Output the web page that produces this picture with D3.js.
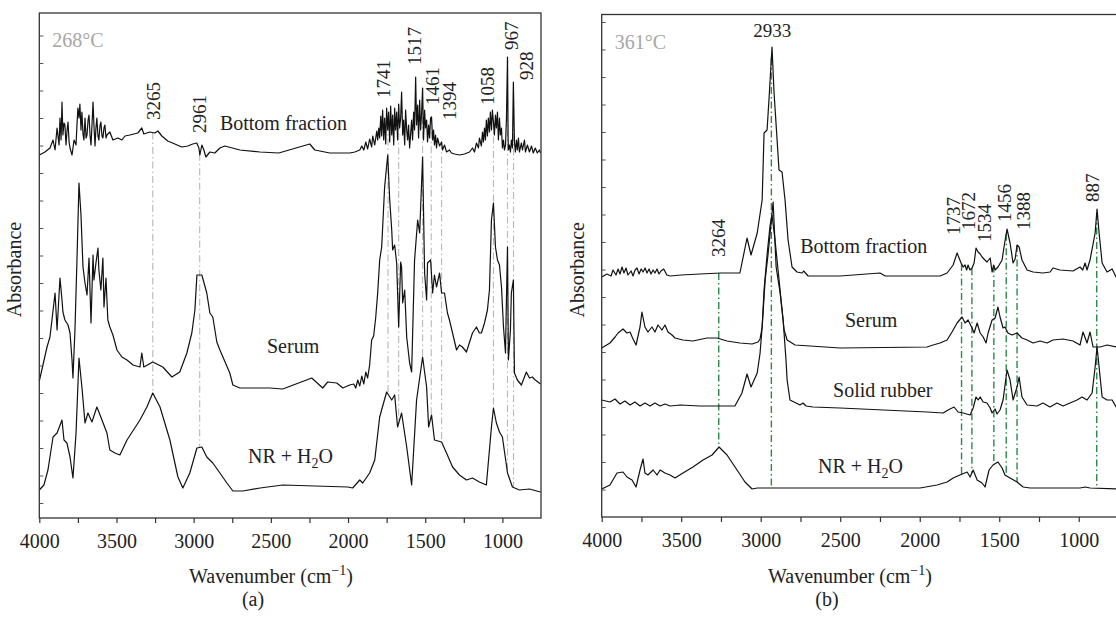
<!DOCTYPE html>
<html>
<head>
<meta charset="utf-8">
<script src="https://cdn.jsdelivr.net/npm/d3@7"></script>
<style>
  body { margin: 0; background: #fff; }
  text { font-family: "Liberation Serif", "Times New Roman", serif; fill: #222; }
</style>
</head>
<body>
<svg id="chart" width="1116" height="629"></svg>
<script>
// ---- data: [wavenumber cm-1, absorbance (a.u., offset stacked)] ----
var bottomFractionA = [[4000,3.63],[3963,3.66],[3931,3.70],[3911,3.78],[3898,3.68],[3885,3.90],[3872,3.73],[3866,4.00],[3859,3.78],[3853,4.16],[3847,3.83],[3840,3.95],[3834,3.93],[3827,3.73],[3820,3.88],[3814,3.96],[3807,3.76],[3801,3.70],[3788,3.63],[3775,3.78],[3762,3.73],[3756,3.93],[3750,4.10],[3743,4.00],[3737,4.14],[3730,3.88],[3724,4.06],[3717,3.84],[3711,3.78],[3704,4.00],[3697,3.80],[3691,3.83],[3684,3.98],[3678,4.03],[3671,3.82],[3665,3.73],[3658,3.95],[3652,4.16],[3646,3.93],[3639,3.72],[3633,3.90],[3627,4.00],[3620,3.82],[3614,3.78],[3607,3.92],[3601,3.96],[3594,3.82],[3588,3.80],[3581,3.90],[3575,3.93],[3568,3.80],[3562,3.83],[3543,3.86],[3523,3.78],[3491,3.80],[3465,3.78],[3445,3.82],[3413,3.83],[3362,3.85],[3336,3.90],[3323,3.84],[3284,3.86],[3252,3.85],[3232,3.87],[3206,3.82],[3168,3.77],[3122,3.74],[3077,3.71],[3038,3.72],[3006,3.74],[2980,3.75],[2966,3.70],[2960,3.63],[2947,3.73],[2934,3.68],[2921,3.61],[2895,3.66],[2863,3.65],[2830,3.70],[2798,3.72],[2701,3.68],[2570,3.66],[2449,3.65],[2248,3.74],[2215,3.68],[2118,3.65],[1989,3.65],[1956,3.66],[1924,3.68],[1911,3.72],[1898,3.68],[1885,3.76],[1873,3.69],[1860,3.79],[1847,3.71],[1840,3.82],[1827,3.73],[1814,3.87],[1808,3.78],[1801,3.90],[1795,3.80],[1788,4.02],[1782,3.82],[1776,4.08],[1769,3.78],[1763,4.00],[1756,3.74],[1750,4.10],[1743,3.88],[1737,4.06],[1730,3.76],[1724,4.12],[1717,3.83],[1711,4.03],[1704,3.73],[1698,4.10],[1692,3.88],[1685,4.06],[1679,3.78],[1672,4.14],[1666,3.90],[1659,4.00],[1653,4.26],[1646,3.83],[1640,3.98],[1633,3.73],[1627,4.08],[1620,3.88],[1614,3.78],[1608,3.93],[1601,3.70],[1595,3.83],[1588,3.98],[1582,3.78],[1575,4.06],[1569,3.88],[1562,4.41],[1556,3.93],[1549,4.13],[1543,3.80],[1536,4.18],[1530,3.88],[1524,4.03],[1517,4.30],[1511,3.78],[1504,4.08],[1498,3.90],[1491,3.98],[1485,3.76],[1478,3.93],[1472,3.80],[1465,4.00],[1459,4.01],[1452,3.78],[1446,3.88],[1440,3.73],[1433,3.83],[1427,3.70],[1420,3.80],[1407,3.72],[1394,3.76],[1388,3.68],[1375,3.73],[1362,3.66],[1343,3.68],[1330,3.65],[1310,3.64],[1278,3.63],[1246,3.64],[1213,3.66],[1194,3.70],[1181,3.66],[1168,3.75],[1155,3.70],[1149,3.80],[1136,3.72],[1129,3.86],[1123,3.76],[1116,3.90],[1110,3.78],[1104,3.98],[1097,3.82],[1091,4.00],[1084,3.86],[1078,4.06],[1071,3.88],[1065,4.08],[1058,3.96],[1052,3.83],[1045,4.03],[1039,3.90],[1032,4.06],[1026,3.78],[1019,4.00],[1013,3.83],[1006,3.90],[1000,3.70],[993,3.78],[987,3.68],[980,3.73],[974,3.98],[967,4.61],[963,3.78],[961,3.68],[955,3.73],[948,3.66],[942,3.78],[935,3.70],[929,4.36],[922,3.76],[916,3.66],[909,3.78],[903,3.68],[896,3.80],[890,3.66],[877,3.75],[870,3.68],[857,3.78],[851,3.66],[838,3.73],[825,3.66],[812,3.72],[800,3.65],[787,3.70],[774,3.65],[761,3.68],[753,3.65]];

var serumA = [[4000,1.37],[3950,1.71],[3931,1.81],[3918,1.98],[3898,2.25],[3885,1.88],[3866,2.40],[3853,2.18],[3847,2.06],[3834,1.98],[3814,1.93],[3801,1.85],[3788,1.58],[3782,1.40],[3769,1.88],[3756,2.58],[3743,3.35],[3730,3.03],[3717,2.51],[3704,2.35],[3691,2.23],[3678,2.60],[3665,1.95],[3652,2.63],[3646,2.38],[3633,2.55],[3620,2.70],[3614,2.48],[3601,2.28],[3588,2.60],[3581,2.11],[3568,2.40],[3556,1.98],[3543,1.91],[3523,1.83],[3497,1.68],[3465,1.61],[3432,1.58],[3393,1.53],[3348,1.51],[3336,1.65],[3323,1.51],[3265,1.56],[3200,1.51],[3141,1.41],[3090,1.46],[3044,1.65],[3012,1.85],[2992,2.08],[2979,2.43],[2947,2.43],[2915,2.25],[2895,2.05],[2876,2.01],[2850,1.76],[2830,1.68],[2766,1.45],[2746,1.33],[2701,1.30],[2507,1.30],[2423,1.29],[2235,1.40],[2164,1.30],[2132,1.36],[2073,1.35],[2034,1.30],[1989,1.33],[1963,1.34],[1950,1.30],[1937,1.38],[1924,1.32],[1911,1.42],[1898,1.34],[1885,1.46],[1873,1.40],[1860,1.53],[1847,1.78],[1834,1.82],[1821,2.00],[1808,2.25],[1795,2.58],[1782,2.71],[1763,3.31],[1743,3.63],[1730,3.18],[1717,2.88],[1711,2.68],[1698,2.73],[1685,2.55],[1672,1.91],[1659,2.56],[1653,2.51],[1646,2.15],[1633,2.28],[1620,1.81],[1601,1.55],[1588,1.46],[1569,2.58],[1549,2.98],[1536,2.85],[1517,3.61],[1504,2.45],[1491,2.18],[1485,2.55],[1465,2.58],[1452,2.25],[1440,2.43],[1427,2.31],[1407,2.45],[1394,2.25],[1375,2.25],[1356,2.05],[1343,1.98],[1323,1.85],[1297,1.68],[1278,1.73],[1259,1.71],[1233,1.66],[1194,1.85],[1168,1.91],[1149,1.85],[1136,1.85],[1116,1.95],[1097,2.08],[1084,2.28],[1071,2.98],[1058,3.15],[1045,2.71],[1032,2.58],[1019,2.53],[1006,2.31],[993,1.91],[980,1.65],[974,2.18],[967,2.71],[961,1.58],[948,1.88],[942,2.25],[929,2.38],[922,1.45],[903,1.38],[877,1.33],[845,1.46],[825,1.40],[806,1.41],[787,1.38],[761,1.35],[753,1.34]];

var nrWaterA = [[4000,0.28],[3970,0.33],[3944,0.48],[3911,0.81],[3885,0.85],[3853,0.98],[3840,0.78],[3821,0.75],[3801,0.61],[3782,0.40],[3762,0.85],[3743,1.60],[3724,1.31],[3704,0.95],[3685,1.05],[3659,0.96],[3627,1.11],[3594,0.98],[3562,0.85],[3543,0.68],[3510,0.65],[3478,0.63],[3432,0.78],[3348,0.98],[3303,1.11],[3265,1.25],[3218,1.11],[3154,0.78],[3102,0.41],[3070,0.30],[3025,0.45],[2979,0.70],[2947,0.71],[2915,0.61],[2876,0.55],[2830,0.45],[2785,0.35],[2746,0.27],[2681,0.27],[2570,0.30],[2423,0.33],[2002,0.31],[1970,0.30],[1924,0.38],[1905,0.35],[1860,0.45],[1827,0.58],[1795,1.01],[1750,1.26],[1717,1.18],[1698,1.23],[1679,0.91],[1653,1.05],[1620,0.71],[1588,0.33],[1556,1.18],[1517,1.61],[1491,1.31],[1478,0.91],[1459,1.03],[1440,0.78],[1394,0.76],[1362,0.65],[1323,0.51],[1278,0.43],[1233,0.38],[1194,0.40],[1149,0.36],[1104,0.33],[1071,0.91],[1058,1.10],[1039,0.95],[1019,0.86],[1000,0.81],[967,0.45],[935,0.31],[890,0.28],[825,0.29],[753,0.26]];

var bottomFractionB = [[4000,2.40],[3967,2.43],[3941,2.41],[3929,2.47],[3910,2.42],[3897,2.48],[3885,2.43],[3872,2.50],[3860,2.44],[3847,2.49],[3835,2.42],[3815,2.46],[3803,2.41],[3790,2.47],[3778,2.49],[3765,2.43],[3752,2.48],[3740,2.45],[3727,2.49],[3715,2.44],[3702,2.48],[3690,2.43],[3677,2.47],[3665,2.44],[3652,2.48],[3640,2.43],[3627,2.46],[3610,2.48],[3590,2.42],[3570,2.41],[3500,2.42],[3382,2.43],[3250,2.44],[3131,2.44],[3118,2.54],[3086,2.79],[3061,2.62],[3022,2.84],[2991,3.17],[2979,3.84],[2960,3.87],[2947,4.20],[2929,4.70],[2916,4.24],[2897,3.77],[2885,3.47],[2866,3.45],[2847,3.17],[2828,2.77],[2803,2.50],[2772,2.45],[2740,2.44],[2730,2.46],[2702,2.41],[2501,2.41],[2250,2.44],[2217,2.41],[1872,2.41],[1828,2.44],[1790,2.52],[1765,2.64],[1740,2.54],[1727,2.50],[1715,2.52],[1705,2.47],[1696,2.52],[1684,2.47],[1671,2.49],[1658,2.54],[1646,2.69],[1633,2.65],[1620,2.63],[1608,2.60],[1590,2.57],[1577,2.55],[1557,2.59],[1545,2.45],[1535,2.52],[1526,2.47],[1508,2.50],[1482,2.57],[1470,2.70],[1451,2.88],[1432,2.74],[1413,2.54],[1400,2.58],[1388,2.72],[1375,2.70],[1357,2.57],[1325,2.47],[1287,2.45],[1225,2.44],[1180,2.45],[1162,2.49],[1118,2.47],[1036,2.46],[992,2.50],[975,2.47],[960,2.54],[948,2.47],[929,2.57],[897,2.84],[885,3.08],[872,2.84],[853,2.54],[822,2.45],[790,2.48],[765,2.40],[753,2.38]];

var serumB = [[4000,1.69],[3948,1.74],[3916,1.80],[3897,1.84],[3866,1.88],[3841,1.84],[3822,1.85],[3803,1.78],[3784,1.72],[3759,1.90],[3747,2.05],[3728,1.90],[3709,1.85],[3684,1.90],[3665,1.85],[3646,1.92],[3621,1.87],[3602,1.92],[3583,1.85],[3558,1.82],[3539,1.79],[3489,1.77],[3426,1.76],[3338,1.79],[3275,1.79],[3212,1.76],[3131,1.74],[3054,1.73],[3017,1.75],[3004,1.78],[2991,1.90],[2979,2.27],[2960,2.62],[2941,2.92],[2929,3.02],[2910,2.77],[2891,2.47],[2872,2.17],[2853,1.87],[2834,1.77],[2784,1.72],[2500,1.69],[1954,1.70],[1916,1.72],[1872,1.74],[1828,1.77],[1797,1.85],[1765,1.94],[1734,2.00],[1715,1.94],[1696,1.97],[1671,1.89],[1658,1.84],[1639,1.94],[1620,1.84],[1601,1.80],[1583,1.74],[1570,1.84],[1545,1.97],[1526,1.99],[1508,2.10],[1495,2.00],[1476,1.89],[1464,1.90],[1445,1.84],[1420,1.82],[1388,1.84],[1357,1.79],[1325,1.77],[1287,1.74],[1243,1.76],[1199,1.74],[1162,1.77],[1099,1.78],[1036,1.76],[992,1.72],[973,1.85],[948,1.74],[929,1.85],[910,1.70],[866,1.70],[822,1.72],[765,1.70],[753,1.70]];

var solidRubberB = [[4000,1.17],[3948,1.15],[3916,1.18],[3885,1.13],[3854,1.16],[3822,1.12],[3791,1.15],[3759,1.11],[3728,1.14],[3696,1.11],[3665,1.14],[3633,1.11],[3602,1.13],[3570,1.11],[3507,1.12],[3382,1.11],[3162,1.11],[3118,1.24],[3086,1.43],[3061,1.30],[3022,1.44],[3004,1.64],[2991,1.90],[2972,2.37],[2953,2.64],[2922,3.15],[2903,2.50],[2878,2.24],[2859,1.97],[2841,1.57],[2834,1.37],[2816,1.17],[2753,1.12],[2734,1.14],[2715,1.11],[2671,1.10],[2501,1.09],[1954,1.05],[1853,1.04],[1822,1.07],[1784,1.10],[1759,1.05],[1727,1.04],[1683,1.02],[1664,1.09],[1646,1.20],[1633,1.17],[1620,1.20],[1601,1.15],[1577,1.14],[1557,1.09],[1545,1.04],[1526,1.08],[1514,1.03],[1495,1.07],[1476,1.17],[1451,1.47],[1432,1.37],[1413,1.17],[1388,1.30],[1375,1.40],[1357,1.20],[1325,1.12],[1262,1.11],[1225,1.14],[1181,1.10],[1137,1.14],[1099,1.11],[1011,1.17],[979,1.20],[948,1.17],[916,1.24],[897,1.50],[885,1.70],[872,1.50],[853,1.20],[822,1.17],[790,1.17],[765,1.10],[753,1.08]];

var nrWaterB = [[4000,0.28],[3948,0.32],[3904,0.44],[3866,0.45],[3841,0.40],[3809,0.37],[3784,0.30],[3759,0.47],[3740,0.58],[3728,0.44],[3709,0.42],[3677,0.47],[3652,0.42],[3633,0.47],[3602,0.44],[3570,0.42],[3539,0.39],[3489,0.44],[3426,0.50],[3363,0.57],[3306,0.62],[3262,0.70],[3212,0.62],[3149,0.47],[3099,0.35],[3054,0.28],[3022,0.29],[2922,0.29],[2501,0.29],[1998,0.29],[1891,0.32],[1828,0.35],[1790,0.39],[1747,0.42],[1702,0.45],[1683,0.40],[1664,0.47],[1639,0.37],[1608,0.34],[1589,0.30],[1564,0.47],[1539,0.52],[1508,0.55],[1482,0.49],[1464,0.42],[1432,0.39],[1388,0.35],[1350,0.30],[1306,0.29],[992,0.29],[960,0.30],[929,0.29],[753,0.28]];

var seriesNamesA = ["Bottom fraction", "Serum", "NR + H2O"];
var seriesNamesB = ["Bottom fraction", "Serum", "Solid rubber", "NR + H2O"];
var peakLinesA = [3265, 2961, 1741, 1672, 1517, 1461, 1394, 1058, 967, 928];
var peakLabelsA = ["3265", "2961", "1741", "1517", "1461", "1394", "1058", "967", "928"];
var peakLinesB = [3264, 2933, 1737, 1672, 1534, 1456, 1388, 887];
var peakLabelsB = ["3264", "2933", "1737", "1672", "1534", "1456", "1388", "887"];
var xTickValues = [4000, 3500, 3000, 2500, 2000, 1500, 1000];
var temperatures = ["268\u00b0C", "361\u00b0C"];
var panelTags = ["(a)", "(b)"];

// ---- helpers ----
var svg = d3.select("#chart");

// linear lookup of a spectrum at a given wavenumber (data sorted high -> low)
function valueAt(spec, w) {
  for (var i = 0; i < spec.length - 1; i++) {
    var a = spec[i], b = spec[i + 1];
    if (w <= a[0] && w >= b[0]) {
      return a[1] + (b[1] - a[1]) * (a[0] - w) / (a[0] - b[0]);
    }
  }
  return spec[spec.length - 1][1];
}

function addName(g, name, px, py) {
  var t = g.append("text").attr("x", px).attr("y", py).style("font-size", "20px");
  if (name.indexOf("H2O") >= 0) {
    t.append("tspan").text("NR + H");
    t.append("tspan").attr("dy", 5).style("font-size", "14px").text("2");
    t.append("tspan").attr("dy", -5).text("O");
  } else {
    t.text(name);
  }
}

function drawPanel(cfg) {
  var x = d3.scaleLinear().domain([4000, 750]).range([cfg.left, cfg.right]);
  var y = d3.scaleLinear().domain([0, cfg.yMax]).range([cfg.bottom, cfg.top]);
  var g = svg.append("g");

  // dash-dot peak markers, from the top spectrum down to the NR + H2O one
  g.selectAll(".peak")
    .data(cfg.lines)
    .enter()
    .append("line")
    .attr("x1", function (d) { return x(d); })
    .attr("x2", function (d) { return x(d); })
    .attr("y1", function (d) { return y(valueAt(cfg.series[0], d)); })
    .attr("y2", function (d) { return y(valueAt(cfg.series[cfg.series.length - 1], d)); })
    .attr("stroke", cfg.lineColor)
    .attr("stroke-width", cfg.lineWidth)
    .attr("stroke-dasharray", "7,3,1.5,3");

  var line = d3.line()
    .x(function (d) { return x(d[0]); })
    .y(function (d) { return y(d[1]); });

  g.selectAll(".spec")
    .data(cfg.series)
    .enter()
    .append("path")
    .attr("d", line)
    .attr("fill", "none")
    .attr("stroke", "#111")
    .attr("stroke-width", 1.2)
    .attr("stroke-linejoin", "round");

  // frame
  g.append("rect")
    .attr("x", cfg.left).attr("y", cfg.top)
    .attr("width", cfg.right - cfg.left).attr("height", cfg.bottom - cfg.top)
    .attr("fill", "none").attr("stroke", "#333").attr("stroke-width", 1.3);

  // bottom axis, ticks every 250, labels every 500
  var xAxis = d3.axisBottom(x)
    .tickValues(d3.range(1000, 4001, 250))
    .tickSize(5)
    .tickPadding(11)
    .tickFormat(function (d) { return xTickValues.indexOf(d) >= 0 ? d : ""; });
  var gx = g.append("g")
    .attr("transform", "translate(0," + cfg.bottom + ")")
    .call(xAxis);
  gx.select(".domain").remove();
  gx.selectAll("line").attr("stroke", "#333").attr("stroke-width", 1.2);
  gx.selectAll("text").style("font-size", "20px").style("font-family", "Liberation Serif, serif").attr("fill", "#222");

  // unlabeled absorbance ticks on the left
  var yAxis = d3.axisLeft(y)
    .tickValues(d3.range(cfg.yTick0, cfg.yMax, 0.275))
    .tickSize(-4)
    .tickFormat("");
  var gy = g.append("g")
    .attr("transform", "translate(" + cfg.left + ",0)")
    .call(yAxis);
  gy.select(".domain").remove();
  gy.selectAll("line").attr("stroke", "#555").attr("stroke-width", 1);

  // peak labels
  cfg.labels.forEach(function (lab, i) {
    var w = +lab, lay = cfg.labelLayout[i];
    var t = g.append("text").style("font-size", "19px").text(lab);
    if (lay.flat) {
      t.attr("x", x(w) + lay.dx).attr("y", y(lay.v)).attr("text-anchor", "middle");
    } else {
      t.attr("transform", "translate(" + (x(w) + lay.dx) + "," + y(lay.v) + ") rotate(-90)")
        .attr("dy", "0.35em");
    }
  });

  // spectrum names
  cfg.names.forEach(function (n, i) {
    var p = cfg.namePos[i];
    addName(g, n, x(p[0]), y(p[1]));
  });

  // temperature tag
  g.append("text")
    .attr("x", cfg.left + 13).attr("y", cfg.top + 34)
    .style("font-size", "20px").style("fill", "#a6a6a6")
    .text(cfg.temp);

  // axis titles
  g.append("text")
    .attr("transform", "translate(" + (cfg.left - 18) + "," + ((cfg.top + cfg.bottom) / 2 + 4) + ") rotate(-90)")
    .attr("text-anchor", "middle")
    .style("font-size", "20px")
    .text("Absorbance");

  var xt = g.append("text")
    .attr("x", cfg.titleX).attr("y", 583)
    .attr("text-anchor", "middle")
    .style("font-size", "20px");
  xt.append("tspan").text("Wavenumber (cm");
  xt.append("tspan").attr("dy", -8).style("font-size", "14px").text("\u22121");
  xt.append("tspan").attr("dy", 8).text(")");

  g.append("text")
    .attr("x", cfg.tagX).attr("y", 606)
    .attr("text-anchor", "middle")
    .style("font-size", "20px")
    .text(cfg.tag);
}

drawPanel({
  left: 39.3, right: 541, top: 13, bottom: 518, yMax: 5.05, yTick0: 0.15,
  series: [bottomFractionA, serumA, nrWaterA],
  names: seriesNamesA,
  namePos: [[2830, 3.88], [2525, 1.65], [2648, 0.55]],
  lines: peakLinesA, lineColor: "#b8b8b8", lineWidth: 1.1,
  labels: peakLabelsA,
  labelLayout: [
    {dx: 1, v: 3.98}, {dx: 0, v: 3.85}, {dx: -5, v: 4.20}, {dx: -8, v: 4.53},
    {dx: 1, v: 4.13}, {dx: 8, v: 3.98}, {dx: -6, v: 4.13}, {dx: 4, v: 4.68}, {dx: 13, v: 4.38}
  ],
  temp: temperatures[0], tag: panelTags[0], titleX: 271, tagX: 253
});

drawPanel({
  left: 601.7, right: 1118.5, top: 14.5, bottom: 517, yMax: 5.025, yTick0: 0.275,
  series: [bottomFractionB, serumB, solidRubberB, nrWaterB],
  names: seriesNamesB,
  namePos: [[2752, 2.64], [2470, 1.90], [2545, 1.20], [2640, 0.44]],
  lines: peakLinesB, lineColor: "#2b8a48", lineWidth: 1.4,
  labels: peakLabelsB,
  labelLayout: [
    {dx: 0, v: 2.60}, {dx: 1, v: 4.80, flat: true}, {dx: -8, v: 2.82}, {dx: -4, v: 2.87},
    {dx: -9, v: 2.75}, {dx: -2, v: 2.95}, {dx: 6, v: 2.87}, {dx: -4, v: 3.15}
  ],
  temp: temperatures[1], tag: panelTags[1], titleX: 850, tagX: 827
});
</script>
</body>
</html>
